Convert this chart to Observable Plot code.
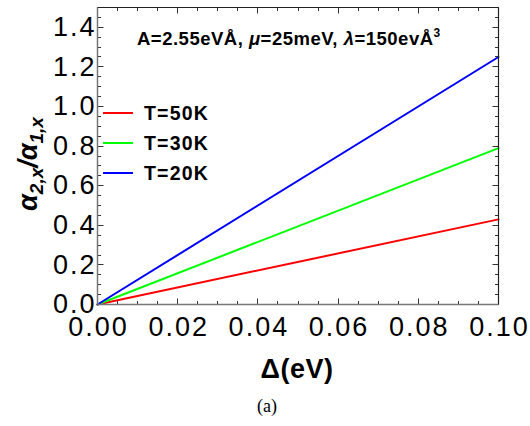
<!DOCTYPE html>
<html>
<head>
<meta charset="utf-8">
<script src="https://cdn.jsdelivr.net/npm/d3@7"></script>
<script src="https://cdn.jsdelivr.net/npm/@observablehq/plot@0.6"></script>
</head>
<body style="margin:0">
<div id="chart"></div>
<script>
// ---- data ----
const delta = [0, 0.1];
const ratioT50 = [0, 0.43];
const ratioT30 = [0, 0.79];
const ratioT20 = [0, 1.25];
const seriesNames = ["T=50K", "T=30K", "T=20K"];
const seriesColors = ["#ff0000", "#00ff00", "#0000ff"];
const xTicks = [0, 0.02, 0.04, 0.06, 0.08, 0.10];
const yTicks = [0, 0.2, 0.4, 0.6, 0.8, 1.0, 1.2, 1.4];
const xMinorTicks = d3.range(0, 0.1001, 0.005);
const yMinorTicks = d3.range(0, 1.5001, 0.05);

const seriesValues = [ratioT50, ratioT30, ratioT20];
const font = "'Liberation Sans', Arial, Helvetica, sans-serif";

const W = 530, H = 426, ML = 97, MR = 32, MT = 7, MB = 122;
const xDomain = [0, 0.1], yDomain = [0, 1.5];

const lineMarks = seriesNames.map((name, i) =>
  Plot.line(delta.map((d, j) => ({delta: d, ratio: seriesValues[i][j]})),
    {x: "delta", y: "ratio", stroke: seriesColors[i], strokeWidth: 2})
);

const chart = Plot.plot({
  width: W,
  height: H,
  marginLeft: ML,
  marginRight: MR,
  marginTop: MT,
  marginBottom: MB,
  x: {domain: xDomain},
  y: {domain: yDomain},
  marks: [
    Plot.axisX({ticks: xTicks, tickSize: 0, tickPadding: 12, fontSize: 27, fontFamily: font, tickFormat: d3.format(".2f"), label: null, fill: "black"}),
    Plot.axisY({ticks: yTicks, tickSize: 0, tickPadding: 3, fontSize: 27, fontFamily: font, tickFormat: d3.format(".1f"), label: null, fill: "black"}),
    ...lineMarks
  ]
});

document.getElementById("chart").appendChild(chart);

const svg = d3.select(chart);

// same mapping as the Plot scales (domain -> plot area)
const X = d3.scaleLinear().domain(xDomain).range([ML, W - MR]);
const Y = d3.scaleLinear().domain(yDomain).range([H - MB, MT]);
const x0 = ML + 0.5, x1 = W - MR + 0.5;
const y0 = H - MB + 0.5, y1 = MT + 0.5;

// widen tick labels slightly (reference font is wider)
svg.selectAll('g[aria-label="x-axis tick label"] text').attr("letter-spacing", 2).attr("dx", 1);
svg.selectAll('g[aria-label="y-axis tick label"] text').attr("letter-spacing", 2).attr("dx", 2);

// ticks (inward)
const tg = svg.append("g");
function seg(xa, ya, xb, yb, color, w) {
  tg.append("line")
    .attr("x1", xa).attr("y1", ya).attr("x2", xb).attr("y2", yb)
    .attr("stroke", color).attr("stroke-width", w);
}
function xTick(v, len) {
  const px = Math.round(X(v)) + 0.5;
  seg(px, y0, px, y0 - len, "#333", 1);
  seg(px, y1, px, y1 + len, "#333", 1);
}
function yTick(v, len) {
  const py = Math.round(Y(v)) + 0.5;
  seg(x0, py, x0 + len, py, "#333", 1);
  seg(x1, py, x1 - len, py, "#333", 1);
}
xMinorTicks.forEach(v => xTick(v, 3.5));
yMinorTicks.forEach(v => yTick(v, 3.5));
xTicks.forEach(v => xTick(v, 6));
yTicks.forEach(v => yTick(v, 6));

// frame
seg(x0, y1, x1, y1, "#222", 1.2);
seg(x1, y1, x1, y0, "#222", 1.2);
seg(x0, y1, x0, y0, "#777", 1.5);
seg(x0, y0, x1, y0, "#777", 1.5);

// annotation
const ann = svg.append("text")
  .attr("x", 137).attr("y", 45)
  .attr("text-anchor", "start")
  .attr("font-family", font).attr("font-weight", "bold").attr("font-size", 18.5)
  .attr("letter-spacing", 0.5)
  .attr("fill", "black");
ann.append("tspan").text("A=2.55eVÅ, ");
ann.append("tspan").attr("font-style", "italic").text("μ");
ann.append("tspan").text("=25meV, ");
ann.append("tspan").attr("font-style", "italic").text("λ");
ann.append("tspan").text("=150evÅ");
ann.append("tspan").attr("font-size", 12).attr("dy", -8).text("3");

// legend
const legendY = [113, 143, 173];
seriesNames.forEach((name, i) => {
  svg.append("line")
    .attr("x1", 103).attr("x2", 133)
    .attr("y1", legendY[i]).attr("y2", legendY[i])
    .attr("stroke", seriesColors[i]).attr("stroke-width", 2);
  svg.append("text")
    .attr("x", 144).attr("y", legendY[i] + 7)
    .attr("text-anchor", "start")
    .attr("font-family", font).attr("font-weight", "bold").attr("font-size", 19.5)
    .attr("letter-spacing", 1.2)
    .attr("fill", "black").text(name);
});

// y label
const yl = svg.append("text")
  .attr("transform", "translate(37,164) rotate(-90)")
  .attr("text-anchor", "middle")
  .attr("font-family", font).attr("font-weight", "bold").attr("font-style", "italic")
  .attr("font-size", 27).attr("fill", "black");
yl.append("tspan").text("α");
yl.append("tspan").attr("font-size", 19).attr("dy", 6).text("2,x");
yl.append("tspan").attr("dy", -6).text("/α");
yl.append("tspan").attr("font-size", 19).attr("dy", 6).text("1,x");

// x label
svg.append("text")
  .attr("x", 297).attr("y", 378)
  .attr("text-anchor", "middle")
  .attr("font-family", font).attr("font-weight", "bold").attr("font-size", 27)
  .attr("letter-spacing", 0.5)
  .attr("fill", "black").text("Δ(eV)");

// caption
svg.append("text")
  .attr("x", 267).attr("y", 412)
  .attr("text-anchor", "middle")
  .attr("font-family", "'Liberation Serif', 'DejaVu Serif', serif").attr("font-size", 18)
  .attr("fill", "black").text("(a)");
</script>
</body>
</html>
